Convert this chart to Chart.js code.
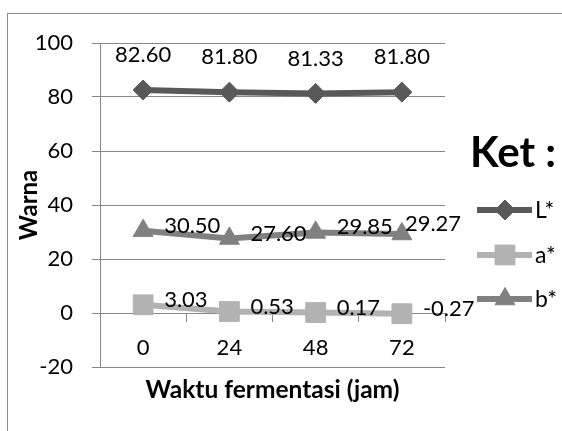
<!DOCTYPE html>
<html>
<head>
<meta charset="utf-8">
<script src="https://cdn.jsdelivr.net/npm/chart.js@4.4.1/dist/chart.umd.min.js"></script>
<style>
  html, body { margin: 0; padding: 0; background: #fff; }
  #wrap { position: relative; width: 562px; height: 431px; overflow: hidden; }
  #frame { position: absolute; left: 7px; top: 13px; width: 700px; height: 600px; border: 1px solid #8c8c8c; }
  canvas { position: absolute; left: 0; top: 0; }
</style>
</head>
<body>
<div id="wrap">
  <div id="frame"></div>
  <canvas id="chart" width="562" height="431"></canvas>
</div>
<script>
// --- DATA ---
const categories = ["0", "24", "48", "72"];
const seriesNames = ["L*", "a*", "b*"];
const valuesL = [82.60, 81.80, 81.33, 81.80];
const valuesA = [3.03, 0.53, 0.17, -0.27];
const valuesB = [30.50, 27.60, 29.85, 29.27];
const yTicks = [-20, 0, 20, 40, 60, 80, 100];

const FONT = "Lato";
const GRID = "#878787";

// data labels: L* above, a*/b* to the right
const dataLabelPlugin = {
  id: "dataLabels",
  afterDatasetsDraw(chart) {
    const ctx = chart.ctx;
    ctx.save();
    ctx.font = "22px " + FONT;
    ctx.fillStyle = "#000";
    chart.data.datasets.forEach((ds, i) => {
      const meta = chart.getDatasetMeta(i);
      meta.data.forEach((pt, j) => {
        const txt = ds.data[j].toFixed(2);
        if (ds.labelPos === "above") {
          ctx.textAlign = "center";
          ctx.textBaseline = "middle";
          ctx.fillText(txt, pt.x, pt.y - 35);
        } else {
          // last b* label was nudged left in the original
          const dx = (ds.labelNudge && ds.labelNudge[j]) || 0;
          ctx.textAlign = "left";
          ctx.textBaseline = "middle";
          ctx.fillText(txt, pt.x + 21 + dx, pt.y - 5 - (dx ? 5 : 0));
        }
      });
    });
    ctx.restore();
  },
};

// legend "Ket :" with line + marker samples
const legendPlugin = {
  id: "ketLegend",
  afterDraw(chart) {
    const ctx = chart.ctx;
    const r = chart.chartArea.right;
    ctx.save();
    ctx.fillStyle = "#000";
    ctx.font = "bold 42px " + FONT;
    ctx.textAlign = "left";
    ctx.textBaseline = "middle";
    ctx.fillText("Ket :", r + 25, 153);
    const rows = [210, 255, 299];
    chart.data.datasets.forEach((ds, i) => {
      const y = rows[i];
      ctx.strokeStyle = ds.borderColor;
      ctx.lineWidth = 6;
      ctx.beginPath();
      ctx.moveTo(r + 32, y);
      ctx.lineTo(r + 87, y);
      ctx.stroke();
      ctx.fillStyle = ds.pointBackgroundColor;
      ctx.strokeStyle = ds.pointBorderColor;
      ctx.lineWidth = 1;
      Chart.helpers.drawPoint(ctx, { pointStyle: ds.pointStyle, radius: ds.pointRadius, borderWidth: 1 }, r + 60, y);
      ctx.fillStyle = "#000";
      ctx.font = "23px " + FONT;
      ctx.fillText(ds.label, r + 90, y + 1);
    });
    ctx.restore();
  },
};

function makeSet(label, data, color, style, radius, pos, nudge) {
  return {
    label: label,
    data: data,
    borderColor: color,
    backgroundColor: color,
    pointBackgroundColor: color,
    pointBorderColor: color,
    borderWidth: 6,
    pointStyle: style,
    pointRadius: radius,
    pointHoverRadius: radius,
    pointBorderWidth: 1,
    tension: 0,
    labelPos: pos,
    labelNudge: nudge,
  };
}

new Chart(document.getElementById("chart"), {
  type: "line",
  data: {
    labels: categories,
    datasets: [
      makeSet(seriesNames[0], valuesL, "#595959", "rectRot", 10, "above"),
      makeSet(seriesNames[1], valuesA, "#b2b2b2", "rect", 14, "right"),
      makeSet(seriesNames[2], valuesB, "#808080", "triangle", 11.5, "right", [0, 0, 0, -18]),
    ],
  },
  options: {
    responsive: false,
    animation: false,
    layout: { padding: { left: 0, top: 43, right: 117, bottom: 64 } },
    plugins: { legend: { display: false }, tooltip: { enabled: false } },
    scales: {
      x: {
        position: { y: 0 },
        offset: true,
        grid: { display: true, drawOnChartArea: false, drawTicks: true, tickLength: 8, color: GRID, offset: true },
        border: { display: true, color: GRID, width: 1 },
        ticks: { color: "#000", font: { family: FONT, size: 22 }, padding: 14, maxRotation: 0 },
        title: { display: true, text: "Waktu fermentasi (jam)", color: "#000", font: { family: FONT, size: 24.5, weight: "bold" }, padding: 0 },
      },
      y: {
        min: -20,
        max: 100,
        afterBuildTicks(scale) { scale.ticks = yTicks.map((v) => ({ value: v })); },
        afterFit(scale) { scale.width = 100; },
        grid: { color: GRID, lineWidth: 1, tickLength: 8 },
        border: { display: true, color: GRID, width: 1 },
        ticks: { color: "#000", font: { family: FONT, size: 22 }, padding: 19 },
        title: { display: true, text: "Warna", color: "#000", font: { family: FONT, size: 24, weight: "bold" }, padding: { top: 15, bottom: 0 } },
      },
    },
  },
  plugins: [dataLabelPlugin, legendPlugin],
});
</script>
</body>
</html>
